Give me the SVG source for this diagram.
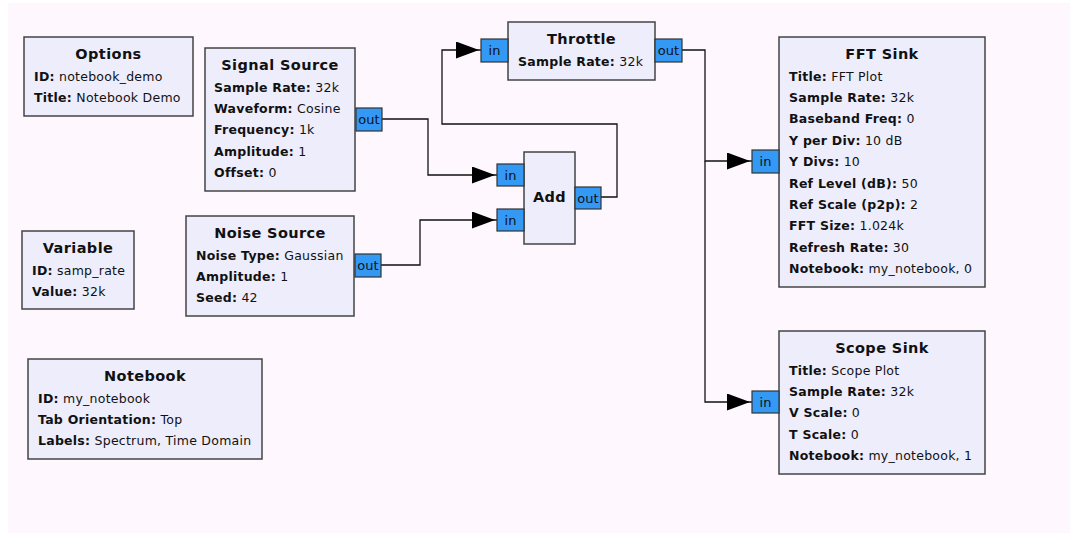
<svg xmlns="http://www.w3.org/2000/svg" width="1070" height="533" viewBox="0 0 1070 533">
<style>
.blk{fill:#EEEDFC;stroke:#444;stroke-width:1.5}
.port{fill:#3399F5;stroke:#333;stroke-width:1.2}
.ttl{font-family:"DejaVu Sans",sans-serif;font-weight:bold;font-size:14.5px;letter-spacing:0.4px;fill:#111;text-anchor:middle}
.p{font-family:"DejaVu Sans",sans-serif;font-size:12.5px;letter-spacing:0.25px;fill:#111}
.p tspan.k{font-weight:bold}
.pt{font-family:"DejaVu Sans",sans-serif;font-size:13px;fill:#111;text-anchor:middle}
.wire{fill:none;stroke:#111;stroke-width:1.3}
</style>
<defs>
<marker id="arr" markerUnits="userSpaceOnUse" markerWidth="26" markerHeight="18" refX="25" refY="8.5" orient="auto">
<path d="M0,0 L23,8.5 L0,17 Z" fill="#000"/>
</marker>
</defs>
<rect x="0" y="0" width="1070" height="533" fill="#FFFFFF"/>
<rect x="8" y="3" width="1062" height="530" fill="#FEF8FE"/>

<g id="connectors">
<path class="wire" d="M382,119 H428 V175 H497" marker-end="url(#arr)"/>
<path class="wire" d="M381,265 H420 V220 H497" marker-end="url(#arr)"/>
<path class="wire" d="M601,197 H617 V124 H442 V50 H481" marker-end="url(#arr)"/>
<path class="wire" d="M682,50 H705 V161 H752" marker-end="url(#arr)"/>
<path class="wire" d="M705,161 V402 H752" marker-end="url(#arr)"/>
</g>

<g id="options">
<rect class="blk" x="24" y="37" width="169" height="79"/>
<text class="ttl" x="108.5" y="59">Options</text>
<text class="p" x="34" y="80.5"><tspan class="k">ID:</tspan> notebook_demo</text>
<text class="p" x="34" y="102"><tspan class="k">Title:</tspan> Notebook Demo</text>
</g>

<g id="signal_source">
<rect class="blk" x="205" y="48" width="150" height="143"/>
<text class="ttl" x="280" y="70">Signal Source</text>
<text class="p" x="214" y="91.5"><tspan class="k">Sample Rate:</tspan> 32k</text>
<text class="p" x="214" y="112.9"><tspan class="k">Waveform:</tspan> Cosine</text>
<text class="p" x="214" y="134.3"><tspan class="k">Frequency:</tspan> 1k</text>
<text class="p" x="214" y="155.7"><tspan class="k">Amplitude:</tspan> 1</text>
<text class="p" x="214" y="177.1"><tspan class="k">Offset:</tspan> 0</text>
<rect class="port" x="356" y="108" width="26" height="23"/>
<text class="pt" x="369" y="124">out</text>
</g>

<g id="noise_source">
<rect class="blk" x="186" y="216" width="168" height="100"/>
<text class="ttl" x="270" y="238">Noise Source</text>
<text class="p" x="196" y="259.5"><tspan class="k">Noise Type:</tspan> Gaussian</text>
<text class="p" x="196" y="280.9"><tspan class="k">Amplitude:</tspan> 1</text>
<text class="p" x="196" y="302.3"><tspan class="k">Seed:</tspan> 42</text>
<rect class="port" x="355" y="254" width="26" height="23"/>
<text class="pt" x="368" y="270">out</text>
</g>

<g id="variable">
<rect class="blk" x="22" y="231" width="112" height="78"/>
<text class="ttl" x="78" y="253">Variable</text>
<text class="p" x="32" y="274.5"><tspan class="k">ID:</tspan> samp_rate</text>
<text class="p" x="32" y="295.9"><tspan class="k">Value:</tspan> 32k</text>
</g>

<g id="notebook">
<rect class="blk" x="28" y="359" width="234" height="100"/>
<text class="ttl" x="145" y="381">Notebook</text>
<text class="p" x="38" y="402.5"><tspan class="k">ID:</tspan> my_notebook</text>
<text class="p" x="38" y="423.9"><tspan class="k">Tab Orientation:</tspan> Top</text>
<text class="p" x="38" y="445.3"><tspan class="k">Labels:</tspan> Spectrum, Time Domain</text>
</g>

<g id="add">
<rect class="blk" x="524" y="152" width="51" height="92"/>
<text class="ttl" x="549.5" y="202">Add</text>
<rect class="port" x="497" y="164" width="27" height="22"/>
<text class="pt" x="510.5" y="179.5">in</text>
<rect class="port" x="497" y="209" width="27" height="22"/>
<text class="pt" x="510.5" y="224.5">in</text>
<rect class="port" x="575" y="187" width="26" height="22"/>
<text class="pt" x="588" y="202.5">out</text>
</g>

<g id="throttle">
<rect class="blk" x="508" y="22" width="147" height="58"/>
<text class="ttl" x="581.5" y="44">Throttle</text>
<text class="p" x="518" y="65.5"><tspan class="k">Sample Rate:</tspan> 32k</text>
<rect class="port" x="481" y="39" width="27" height="23"/>
<text class="pt" x="494.5" y="55">in</text>
<rect class="port" x="655" y="39" width="27" height="23"/>
<text class="pt" x="668.5" y="55">out</text>
</g>

<g id="fft_sink">
<rect class="blk" x="779" y="37" width="206" height="250"/>
<text class="ttl" x="882" y="59">FFT Sink</text>
<text class="p" x="789" y="80.5"><tspan class="k">Title:</tspan> FFT Plot</text>
<text class="p" x="789" y="101.9"><tspan class="k">Sample Rate:</tspan> 32k</text>
<text class="p" x="789" y="123.3"><tspan class="k">Baseband Freq:</tspan> 0</text>
<text class="p" x="789" y="144.7"><tspan class="k">Y per Div:</tspan> 10 dB</text>
<text class="p" x="789" y="166.1"><tspan class="k">Y Divs:</tspan> 10</text>
<text class="p" x="789" y="187.5"><tspan class="k">Ref Level (dB):</tspan> 50</text>
<text class="p" x="789" y="208.9"><tspan class="k">Ref Scale (p2p):</tspan> 2</text>
<text class="p" x="789" y="230.3"><tspan class="k">FFT Size:</tspan> 1.024k</text>
<text class="p" x="789" y="251.7"><tspan class="k">Refresh Rate:</tspan> 30</text>
<text class="p" x="789" y="273.1"><tspan class="k">Notebook:</tspan> my_notebook, 0</text>
<rect class="port" x="752" y="150" width="27" height="23"/>
<text class="pt" x="765.5" y="166">in</text>
</g>

<g id="scope_sink">
<rect class="blk" x="779" y="331" width="206" height="143"/>
<text class="ttl" x="882" y="353">Scope Sink</text>
<text class="p" x="789" y="374.5"><tspan class="k">Title:</tspan> Scope Plot</text>
<text class="p" x="789" y="395.9"><tspan class="k">Sample Rate:</tspan> 32k</text>
<text class="p" x="789" y="417.3"><tspan class="k">V Scale:</tspan> 0</text>
<text class="p" x="789" y="438.7"><tspan class="k">T Scale:</tspan> 0</text>
<text class="p" x="789" y="460.1"><tspan class="k">Notebook:</tspan> my_notebook, 1</text>
<rect class="port" x="752" y="391" width="27" height="22"/>
<text class="pt" x="765.5" y="406.5">in</text>
</g>
</svg>
